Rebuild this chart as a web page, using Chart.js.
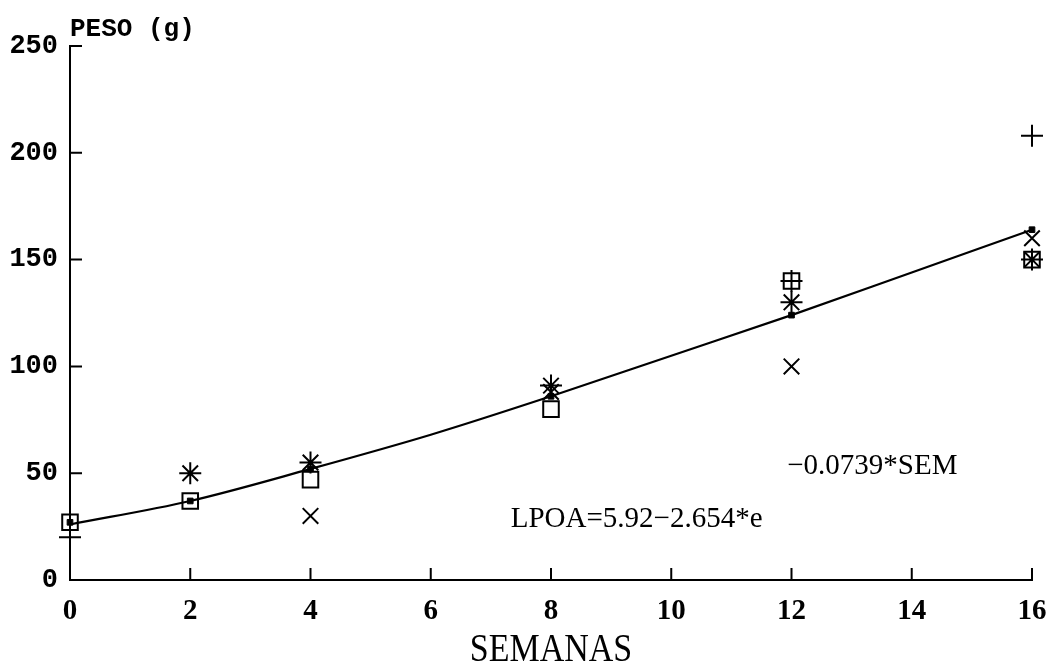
<!DOCTYPE html>
<html>
<head>
<meta charset="utf-8">
<script src="https://cdn.jsdelivr.net/npm/chart.js@4/dist/chart.umd.min.js"></script>
<style>
  html, body { margin: 0; padding: 0; background: #fff; }
  #wrap { width: 1046px; height: 668px; }
</style>
</head>
<body>
<div id="wrap"><canvas id="pesoChart" width="1046" height="668"></canvas></div>
<script>
// weeks (SEMANAS) and weights (PESO, g)
const semanas = [0, 2, 4, 8, 12, 16];
const cuadrado = [27, 37, 47, 80, 140, 150];     // open squares
const cruz = [20, null, null, null, 140, 208];   // plus signs
const aspa = [null, null, 30, 88, 100, 160];     // x marks
const estrella = [null, 50, 55, 91, 130, 150];   // asterisks
const media = [27, 37, 52, 86, 124, 164];        // small filled dots

// fitted curve LPOA = 5.92 - 2.654*e^(-0.0739*SEM)
const curvaSem = [0, 2, 4, 6, 8, 10, 12, 14, 16];
const curvaPeso = [26, 37, 52, 68, 86, 105, 124, 144, 164];

const xTicks = [0, 2, 4, 6, 8, 10, 12, 14, 16];
const yTicks = [0, 50, 100, 150, 200, 250];

function pts(xs, ys) {
  return xs.map((x, i) => ({ x: x, y: ys[i] })).filter(p => p.y !== null);
}

function markers(label, ys, style, r) {
  return {
    label: label,
    data: pts(semanas, ys),
    showLine: false,
    pointStyle: style,
    pointRadius: r,
    pointBorderColor: '#000',
    pointBackgroundColor: 'rgba(0,0,0,0)',
    pointBorderWidth: 2
  };
}

// ticks drawn inside the frame, plus the free texts
const frame = {
  id: 'frame',
  afterDraw(chart) {
    const c = chart.ctx;
    const xs = chart.scales.x, ys = chart.scales.y;
    const a = chart.chartArea;
    c.save();
    c.strokeStyle = '#000';
    c.lineWidth = 2;
    c.beginPath();
    xTicks.forEach(v => {
      const px = xs.getPixelForValue(v);
      c.moveTo(px, a.bottom);
      c.lineTo(px, a.bottom - 12);
    });
    yTicks.forEach(v => {
      const py = ys.getPixelForValue(v);
      c.moveTo(a.left, py);
      c.lineTo(a.left + 12, py);
    });
    c.stroke();

    c.fillStyle = '#000';
    c.textBaseline = 'alphabetic';
    c.textAlign = 'left';
    c.font = 'bold 26px "Liberation Mono"';
    c.fillText('PESO (g)', a.left, 36);

    // condensed serif axis title
    c.save();
    c.translate((a.left + a.right) / 2, 661);
    c.scale(0.85, 1);
    c.textAlign = 'center';
    c.font = '40px "Liberation Serif"';
    c.fillText('SEMANAS', 0, 0);
    c.restore();

    c.font = '29px "Liberation Serif"';
    c.textAlign = 'left';
    c.fillText('LPOA=5.92\u22122.654*e', xs.getPixelForValue(7.33), ys.getPixelForValue(30) + 11);
    c.textAlign = 'right';
    c.fillText('\u22120.0739*SEM', xs.getPixelForValue(14.76), ys.getPixelForValue(55) + 11);
    c.restore();
  }
};

new Chart(document.getElementById('pesoChart'), {
  type: 'scatter',
  data: {
    datasets: [
      {
        label: 'curva',
        data: pts(curvaSem, curvaPeso),
        showLine: true,
        borderColor: '#000',
        borderWidth: 2.2,
        pointRadius: 0,
        cubicInterpolationMode: 'monotone'
      },
      {
        label: 'media',
        data: pts(semanas, media),
        showLine: false,
        pointStyle: 'rect',
        pointRadius: 4,
        pointBackgroundColor: '#000',
        pointBorderColor: '#000',
        pointBorderWidth: 1
      },
      markers('cuadrado', cuadrado, 'rect', 11),
      markers('cruz', cruz, 'cross', 11),
      markers('aspa', aspa, 'crossRot', 11),
      markers('estrella', estrella, 'star', 11)
    ]
  },
  options: {
    responsive: false,
    animation: false,
    clip: false,
    layout: { padding: { top: 46, right: 14, left: 0, bottom: 0 } },
    plugins: { legend: { display: false }, tooltip: { enabled: false } },
    scales: {
      x: {
        type: 'linear',
        min: 0,
        max: 16,
        afterFit(s) { s.height = 88; s.paddingLeft = 0; s.paddingRight = 0; },
        afterBuildTicks(s) { s.ticks = xTicks.map(v => ({ value: v })); },
        grid: { display: true, drawOnChartArea: false, drawTicks: false },
        border: { display: true, color: '#000', width: 2 },
        ticks: {
          color: '#000',
          padding: 14,
          maxRotation: 0,
          font: { family: 'Liberation Serif', size: 29, weight: 'bold' }
        }
      },
      y: {
        min: 0,
        max: 250,
        afterFit(s) { s.width = 70; s.paddingTop = 0; s.paddingBottom = 0; },
        afterBuildTicks(s) { s.ticks = yTicks.map(v => ({ value: v })); },
        grid: { display: true, drawOnChartArea: false, drawTicks: false },
        border: { display: true, color: '#000', width: 2 },
        ticks: {
          color: '#000',
          padding: 12,
          font: { family: 'Liberation Mono', size: 27, weight: 'bold' }
        }
      }
    }
  },
  plugins: [frame]
});
</script>
</body>
</html>
